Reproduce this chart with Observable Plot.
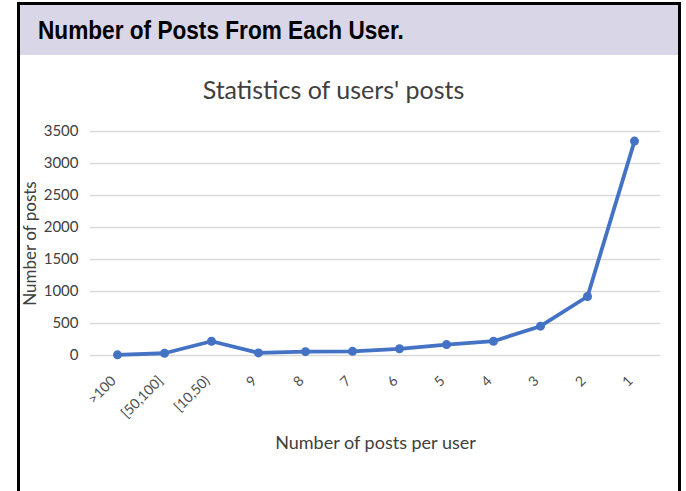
<!DOCTYPE html>
<html>
<head>
<meta charset="utf-8">
<script src="https://cdn.jsdelivr.net/npm/d3@7"></script>
<script src="https://cdn.jsdelivr.net/npm/@observablehq/plot@0.6"></script>
<style>
  html, body { margin: 0; padding: 0; background: #fff; width: 686px; height: 491px; overflow: hidden; }
  #frame { position: absolute; left: 17px; top: 2px; width: 658px; height: 500px; border: 3px solid #000; border-bottom: none; background: #fff; }
  #header { height: 50px; background: #d9d7e7; position: relative; }
  #header span { position: absolute; left: 18px; top: 10px; font-family: "Liberation Sans", Arial, sans-serif; font-weight: bold; font-size: 26px; color: #000; transform: scaleX(0.87); transform-origin: left center; white-space: nowrap; }
  #chart { position: absolute; left: 0; top: 50px; }
</style>
</head>
<body>
<div id="frame">
  <div id="header"><span>Number of Posts From Each User.</span></div>
  <div id="chart"></div>
</div>
<script>
const categories = [">100", "[50,100]", "[10,50)", "9", "8", "7", "6", "5", "4", "3", "2", "1"];
const posts = [10, 35, 223, 40, 60, 65, 105, 170, 223, 458, 922, 3350];
const yTicks = [0, 500, 1000, 1500, 2000, 2500, 3000, 3500];
const chartTitle = "Statistics of users' posts";
const xLabel = "Number of posts per user";
const yLabel = "Number of posts";

const data = categories.map((c, i) => ({cat: c, value: posts[i]}));
const font = "Lato, 'Open Sans', sans-serif";

const plot = Plot.plot({
  width: 658,
  height: 439,
  marginLeft: 70,
  marginRight: 18,
  marginTop: 76,
  marginBottom: 139,
  style: { fontFamily: font, background: "transparent" },
  x: { type: "point", domain: categories, padding: 0.5, label: null },
  y: { domain: [0, 3500], label: null },
  marks: [
    Plot.gridY(yTicks, { stroke: "#d9d9d9", strokeOpacity: 1, strokeWidth: 1.3 }),
    Plot.axisY({ ticks: yTicks, tickFormat: d => String(d), tickSize: 0, tickPadding: 12, fontSize: 15, fill: "#404040", label: null }),
    Plot.axisX({ tickSize: 0, tickRotate: -45, tickPadding: 23, dx: -4, fontSize: 14, fill: "#505050", label: null }),
    Plot.line(data, { x: "cat", y: "value", stroke: "#4472C4", strokeWidth: 3.8, curve: "linear" }),
    Plot.dot(data, { x: "cat", y: "value", fill: "#4472C4", r: 4.5 }),
    Plot.text([chartTitle], { frameAnchor: "top", dx: -42, dy: -50, fontSize: 25, fill: "#404040" }),
    Plot.text([xLabel], { frameAnchor: "bottom", dx: 0, dy: 93, fontSize: 18, fill: "#404040" }),
    Plot.text([yLabel], { frameAnchor: "left", dx: -60, rotate: -90, textAnchor: "middle", fontSize: 17, fill: "#404040" })
  ]
});
document.getElementById("chart").appendChild(plot);
</script>
</body>
</html>
